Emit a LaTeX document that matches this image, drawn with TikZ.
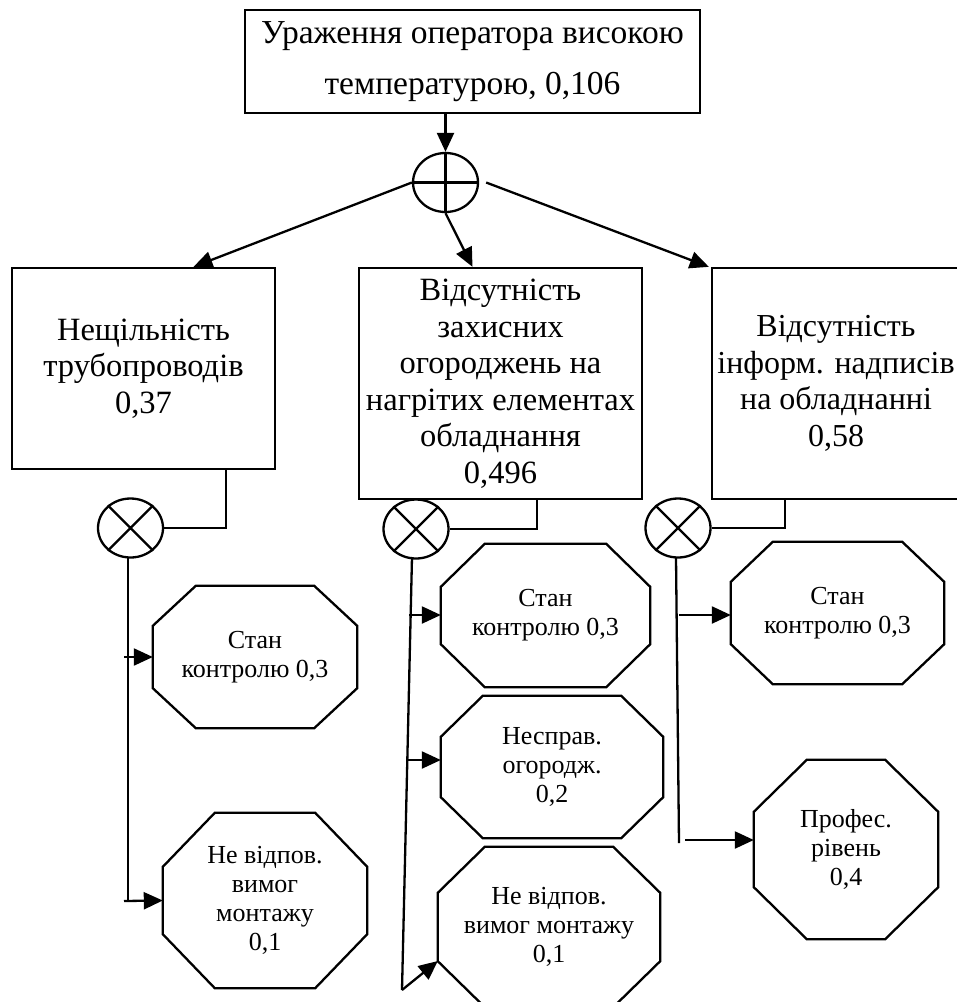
\documentclass[tikz,border=0pt]{standalone}
\usepackage{fontspec}
\setmainfont{Liberation Serif}
\usetikzlibrary{arrows.meta,calc,shapes.geometric}
\newcommand\octshape[3]{%
  \draw[ln] ($(#1.north west)+(#2,0)$) -- ($(#1.north east)+(-#2,0)$)
    -- ($(#1.north east)+(0,-#3)$) -- ($(#1.south east)+(0,#3)$)
    -- ($(#1.south east)+(-#2,0)$) -- ($(#1.south west)+(#2,0)$)
    -- ($(#1.south west)+(0,#3)$) -- ($(#1.north west)+(0,-#3)$) -- cycle;}
\begin{document}
\begin{tikzpicture}[x=1pt,y=1pt,
  ln/.style={line width=2.3pt, line join=miter},
  arr/.style={ln,-{Triangle[length=19pt,width=17pt]}},
  boxnode/.style={draw, line width=2.3pt, inner sep=0pt, align=center, font={\fontsize{32.5}{36.5}\selectfont}},
  octnode/.style={inner sep=0pt, align=center, font={\fontsize{26}{29}\selectfont}},
  gate/.style={ellipse, draw, line width=2.3pt, minimum width=65pt, minimum height=59pt, inner sep=0pt}]
\useasboundingbox (0,0) rectangle (957,-1002);
\fill[white] (0,0) rectangle (957,-1002);

% top event
\node[boxnode, minimum width=455pt, minimum height=103pt, font={\fontsize{33.5}{51}\selectfont}] (top) at (472.5,-61.5)
  {Ураження оператора високою\\температурою, 0,106};
% OR gate
\node[gate] (g0) at (445.5,-182.5) {};
\draw[ln] (g0.north) -- (g0.south) (g0.west) -- (g0.east);

% second level boxes
\node[boxnode, minimum width=263pt, minimum height=201pt] (b1) at (143.5,-368.5)
  {Нещільність\\трубопроводів\\0,37};
\node[boxnode, minimum width=283pt, minimum height=231pt] (b2) at (500.5,-383.5)
  {Відсутність\\захисних\\огороджень на\\нагрітих елементах\\обладнання\\0,496};
\node[boxnode, minimum width=248pt, minimum height=231pt, font={\fontsize{32}{36.5}\selectfont}] (b3) at (836,-383.5)
  {Відсутність\\інформ. надписів\\на обладнанні\\0,58};

\draw[arr] (top.south -| g0.north) -- (g0.north);
\draw[arr] (g0.west) -- ($(b1.north)+(50,0)$);
\draw[arr] (g0.south) -- ($(b2.north)+(-28,0)$);
\draw[arr] ($(g0.east)+(7,0)$) -- ($(b3.north west)+(-2,0)$);

% AND gates
\node[gate] (g1) at (130.5,-528) {};
\node[gate] (g2) at (416,-529) {};
\node[gate] (g3) at (678,-528) {};
\foreach \g in {g1,g2,g3}{\draw[ln] (\g.45) -- (\g.225) (\g.135) -- (\g.315);}
\draw[ln] ($(b1.south west)+(215,0)$) |- (g1.east);
\draw[ln] ($(b2.south west)+(179,0)$) |- (g2.east);
\draw[ln] ($(b3.south west)+(74,0)$) |- (g3.east);

% octagons
\node[octnode, minimum width=204pt, minimum height=142pt] (o1) at (255,-657) {Стан\\контролю 0,3};
\octshape{o1}{43}{40}
\node[octnode, minimum width=204pt, minimum height=175pt] (o2) at (265,-900.5) {Не відпов.\\вимог\\монтажу\\0,1};
\octshape{o2}{52}{54}
\node[octnode, minimum width=209pt, minimum height=143pt] (o3) at (545.5,-615.5) {Стан\\контролю 0,3};
\octshape{o3}{44}{43}
\node[octnode, minimum width=222pt, minimum height=142pt] (o4) at (552,-767) {Несправ.\\огородж.\\0,2};
\octshape{o4}{42}{41}
\node[octnode, minimum width=222pt, minimum height=160pt] (o5) at (549,-927) {Не відпов.\\вимог монтажу\\0,1};
\octshape{o5}{47}{46}
\node[octnode, minimum width=213pt, minimum height=142pt] (o6) at (837.5,-613) {Стан\\контролю 0,3};
\octshape{o6}{42}{40}
\node[octnode, minimum width=184pt, minimum height=179pt] (o7) at (846,-849.5) {Профес.\\рівень\\0,4};
\octshape{o7}{53}{52}

% stems and branches, gate 1
\coordinate (s1a) at (124,-657);
\coordinate (s1b) at (124,-901);
\draw[ln] (128,-557) -- (128,-901);
\draw[arr] (s1a) -- (o1.west);
\draw[arr] (s1b) -- (o2.west);
% gate 2
\coordinate (s2a) at (409,-615);
\coordinate (s2b) at (407,-760);
\coordinate (s2e) at (402,-990);
\draw[ln] (412,-557) -- (s2e);
\draw[arr] (s2a) -- (s2a -| o3.west);
\draw[arr] (s2b) -- (s2b -| o4.west);
\draw[arr] (s2e) -- ($(o5.west)+(0,-34)$);
% gate 3
\coordinate (s3a) at (679,-615);
\coordinate (s3b) at (685,-840);
\draw[ln] (676,-557) -- (679,-843);
\draw[arr] (s3a) -- (s3a -| o6.west);
\draw[arr] (s3b) -- (s3b -| o7.west);
\end{tikzpicture}
\end{document}
